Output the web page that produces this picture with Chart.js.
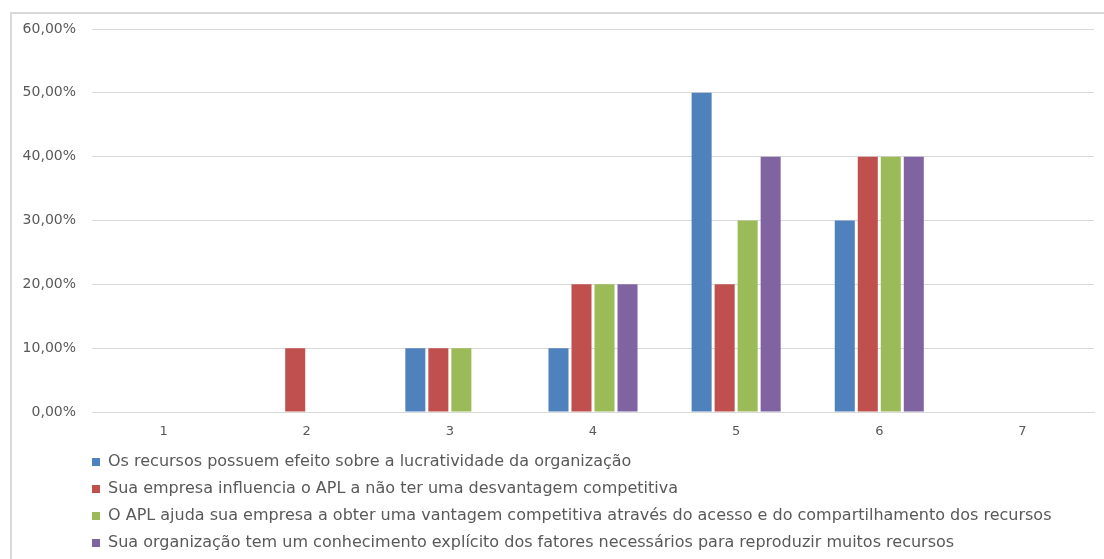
<!DOCTYPE html>
<html>

<head>
    <meta charset="utf-8">
    <title>Recursos APL</title>
    <script src="https://cdn.jsdelivr.net/npm/chart.js"></script>
    <style>
        body {
            margin: 0;
            width: 1104px;
            height: 559px;
            overflow: hidden;
            background: #fff;
            font-family: "DejaVu Sans", sans-serif;
        }

        #frame {
            position: absolute;
            left: 10px;
            top: 12px;
            width: 1200px;
            height: 700px;
            border: 2px solid #d9d9d9;
        }

        #chart {
            position: absolute;
            left: 0;
            top: 0;
        }
    </style>
</head>

<body>
    <div id="frame"></div>
    <canvas id="chart" width="1104" height="559"></canvas>

    <script>
        // categories (scale points 1..7)
        const categories = ['1', '2', '3', '4', '5', '6', '7'];

        // series labels
        const seriesNames = [
            'Os recursos possuem efeito sobre a lucratividade da organização',
            'Sua empresa influencia o APL a não ter uma desvantagem competitiva',
            'O APL ajuda sua empresa a obter uma vantagem competitiva através do acesso e do compartilhamento dos recursos',
            'Sua organização tem um conhecimento explícito dos fatores necessários para reproduzir muitos recursos'
        ];

        // values in percent
        const lucratividade = [0, 0, 10, 10, 50, 30, 0];
        const desvantagem = [0, 10, 10, 20, 20, 40, 0];
        const vantagem = [0, 0, 10, 20, 30, 40, 0];
        const conhecimento = [0, 0, 0, 20, 40, 40, 0];

        const colors = ['#4f81bd', '#c0504d', '#9bbb59', '#8064a2'];
        const allSeries = [lucratividade, desvantagem, vantagem, conhecimento];

        const fmtPct = v => v.toFixed(2).replace('.', ',') + '%';

        // push the legend right/down so its boxes line up with the plot area
        const legendShift = {
            id: 'legendShift',
            afterLayout(chart) {
                chart.legend.left = 81;
                chart.legend.top += 2;
            }
        };

        new Chart(document.getElementById('chart'), {
            type: 'bar',
            data: {
                labels: categories,
                datasets: allSeries.map((d, i) => ({
                    label: seriesNames[i],
                    data: d,
                    backgroundColor: colors[i],
                    borderWidth: 0,
                    barPercentage: 0.87,
                    categoryPercentage: 0.643
                }))
            },
            options: {
                responsive: false,
                animation: false,
                layout: {
                    padding: { top: 29, right: 10, left: 0, bottom: 0 }
                },
                plugins: {
                    tooltip: { enabled: false },
                    legend: {
                        position: 'bottom',
                        align: 'start',
                        labels: {
                            boxWidth: 8,
                            boxHeight: 8,
                            padding: 11,
                            color: '#595959',
                            font: { family: 'DejaVu Sans', size: 16 }
                        }
                    }
                },
                scales: {
                    x: {
                        grid: { display: false, drawTicks: false },
                        border: { display: true, color: '#d9d9d9', width: 1 },
                        ticks: {
                            color: '#595959',
                            padding: 12,
                            font: { family: 'DejaVu Sans', size: 13 }
                        },
                        afterFit(scale) {
                            scale.height = 29;
                        }
                    },
                    y: {
                        min: 0,
                        max: 60,
                        grid: { color: '#d9d9d9', drawTicks: false },
                        border: { display: false },
                        ticks: {
                            stepSize: 10,
                            padding: 16,
                            color: '#595959',
                            font: { family: 'DejaVu Sans', size: 14 },
                            callback: v => fmtPct(v)
                        },
                        afterFit(scale) {
                            scale.width = 92;
                        }
                    }
                }
            },
            plugins: [legendShift]
        });
    </script>
</body>

</html>
